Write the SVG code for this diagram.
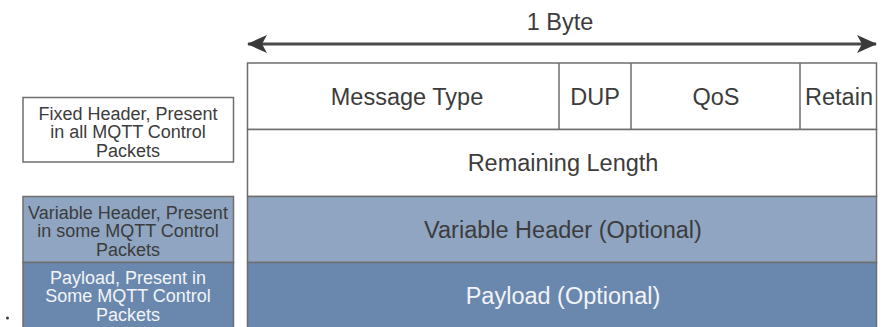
<svg xmlns="http://www.w3.org/2000/svg" width="883" height="327" viewBox="0 0 883 327">
<style>
  .lbl { font-family: "Liberation Sans", Arial, sans-serif; fill: #3c3c3c; text-anchor: middle; }
  .main { font-size: 23.5px; }
  .side { font-size: 18px; }
  .box { stroke: #6e6e6e; stroke-width: 1.5; }
  .white { fill: #ffffff; }
  .var { fill: #8fa5c1; }
  .pay { fill: #6a88ae; }
  .light { fill: #f2f4f8; }
</style>
<defs>
  <marker id="ah" viewBox="0 0 20 18" refX="19" refY="9" markerWidth="20" markerHeight="18" markerUnits="userSpaceOnUse" orient="auto-start-reverse">
    <path d="M0,0 L20,9 L0,18 L5,9 Z" fill="#3a3a3a"/>
  </marker>
</defs>
<rect width="883" height="327" fill="#ffffff"/>

<g id="connectors">
  <line x1="248" y1="44" x2="876" y2="44" stroke="#4a4a4a" stroke-width="3" marker-start="url(#ah)" marker-end="url(#ah)"/>
</g>
<g id="byte-label">
  <text class="lbl main" x="560" y="29.5">1 Byte</text>
</g>

<g id="fixed-header-row1">
  <rect class="box white" x="247.5" y="63" width="629" height="66.5"/>
  <line class="box" x1="559" y1="63" x2="559" y2="129.5"/>
  <line class="box" x1="631" y1="63" x2="631" y2="129.5"/>
  <line class="box" x1="800" y1="63" x2="800" y2="129.5"/>
  <text class="lbl main" x="407" y="105">Message Type</text>
  <text class="lbl main" x="595" y="105">DUP</text>
  <text class="lbl main" x="716" y="105">QoS</text>
  <text class="lbl main" x="839" y="105">Retain</text>
</g>
<g id="remaining-length">
  <rect class="box white" x="247.5" y="129.5" width="629" height="67"/>
  <text class="lbl main" x="563" y="171">Remaining Length</text>
</g>
<g id="variable-header">
  <rect class="box var" x="247.5" y="196.5" width="629" height="66"/>
  <text class="lbl main" x="563" y="238">Variable Header (Optional)</text>
</g>
<g id="payload">
  <rect class="box pay" x="247.5" y="262.5" width="629" height="70"/>
  <text class="lbl main light" x="563" y="304">Payload (Optional)</text>
</g>

<g id="fixed-header-note">
  <rect class="box white" x="23" y="97.5" width="210.5" height="64.5"/>
  <text class="lbl side" x="128" y="119.5">Fixed Header, Present</text>
  <text class="lbl side" x="128" y="138">in all MQTT Control</text>
  <text class="lbl side" x="128" y="156.5">Packets</text>
</g>
<g id="variable-header-note">
  <rect class="box var" x="23" y="196.5" width="210.5" height="66"/>
  <text class="lbl side" x="128" y="218.5">Variable Header, Present</text>
  <text class="lbl side" x="128" y="237">in some MQTT Control</text>
  <text class="lbl side" x="128" y="255.5">Packets</text>
</g>
<g id="payload-note">
  <rect class="box pay" x="23" y="262.5" width="210.5" height="70"/>
  <text class="lbl side light" x="128" y="283.5">Payload, Present in</text>
  <text class="lbl side light" x="128" y="302">Some MQTT Control</text>
  <text class="lbl side light" x="128" y="320.5">Packets</text>
</g>
<circle cx="7.5" cy="318" r="1.5" fill="#3a3a3a"/>
</svg>
